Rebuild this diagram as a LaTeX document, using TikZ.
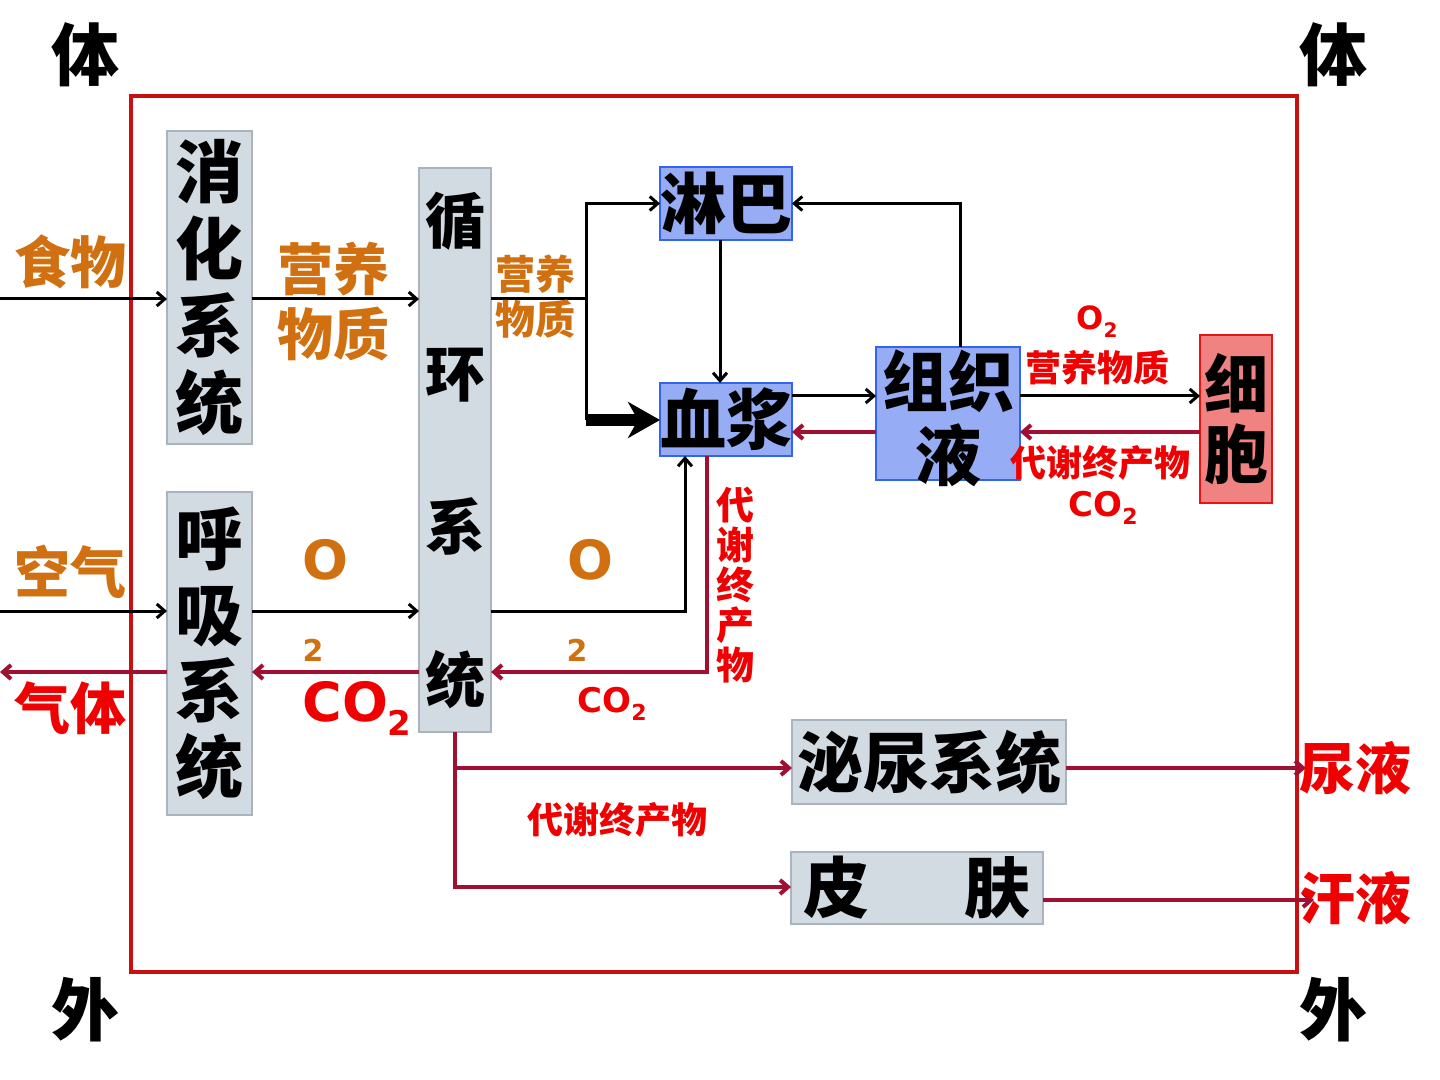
\documentclass[tikz,border=0pt]{standalone}
\usepackage{fontspec}
\setmainfont{Noto Sans CJK SC}
\newfontfamily\lat{DejaVu Sans}
\usetikzlibrary{arrows.meta}
\definecolor{orng}{RGB}{208,112,16}
\definecolor{rtext}{RGB}{240,0,0}
\definecolor{darkred}{RGB}{160,16,48}
\definecolor{framered}{RGB}{200,16,16}
\definecolor{boxfill}{RGB}{210,218,226}
\definecolor{boxgray}{RGB}{170,180,190}
\definecolor{bluefill}{RGB}{150,172,245}
\definecolor{blueedge}{RGB}{50,100,240}
\definecolor{cellfill}{RGB}{240,130,130}
\definecolor{celledge}{RGB}{230,20,20}
\newcommand\lowsub[2]{\raisebox{-#1}{\fontsize{#2}{#2}\selectfont 2}}
\begin{document}
\begin{tikzpicture}[x=0.5pt,y=-0.5pt,
  every node/.style={inner sep=0pt, outer sep=0pt},
  graybox/.style={draw=boxgray, fill=boxfill, line width=0.6pt, align=center},
  bluebox/.style={draw=blueedge, fill=bluefill, line width=1.2pt, align=center},
  cellbox/.style={draw=celledge, fill=cellfill, line width=1.2pt, align=center},
  blk/.style={draw=black, line width=1.5pt, -{Straight Barb[length=4pt,width=7pt]}},
  drd/.style={draw=darkred, line width=2pt, -{Straight Barb[length=4pt,width=7pt]}},
  lbl/.style={align=center},
]
\useasboundingbox (0,0) rectangle (1440,1080);
\fill[white] (0,0) rectangle (1440,1080);
% frame
\draw[framered, line width=2pt] (131,96) rectangle (1297,972);
% corner labels
\node[font=\bfseries\fontsize{34pt}{34pt}\selectfont] (t1) at (85,55) {体};
\node[font=\bfseries\fontsize{34pt}{34pt}\selectfont] (t2) at (1333,55) {体};
\node[font=\bfseries\fontsize{34pt}{34pt}\selectfont] (w1) at (85,1010) {外};
\node[font=\bfseries\fontsize{34pt}{34pt}\selectfont] (w2) at (1333,1010) {外};
% boxes
\node[graybox, minimum width=42.5pt, minimum height=156.5pt, font=\bfseries\fontsize{34pt}{38.5pt}\selectfont] (xh) at (209.5,287.5) {消\\化\\系\\统};
\node[graybox, minimum width=42.5pt, minimum height=161.5pt, font=\bfseries\fontsize{34pt}{38pt}\selectfont] (hx) at (209.5,653.5) {呼\\吸\\系\\统};
\node[graybox, minimum width=36pt, minimum height=282pt, font=\bfseries\fontsize{30pt}{76.5pt}\selectfont] (xc) at (455,450) {循\\环\\系\\统};
\node[bluebox, minimum width=66pt, minimum height=36.5pt, font=\bfseries\fontsize{33pt}{33pt}\selectfont] (lb) at (726,203.5) {淋巴};
\node[bluebox, minimum width=66pt, minimum height=36.5pt, font=\bfseries\fontsize{33pt}{33pt}\selectfont] (xj) at (726,419.5) {血浆};
\node[bluebox, minimum width=72pt, minimum height=66.5pt] (zz) at (948,413.5) {};
\node[align=center, font=\bfseries\fontsize{33pt}{37pt}\selectfont] (zzt) at (948,418) {组织\\液};
\node[cellbox, minimum width=36pt, minimum height=84pt, font=\bfseries\fontsize{32pt}{35pt}\selectfont] (xb) at (1236,419) {细\\胞};
\node[graybox, minimum width=137pt, minimum height=42pt, font=\bfseries\fontsize{33pt}{33pt}\selectfont] (mn) at (929,762) {泌尿系统};
\node[graybox, minimum width=126pt, minimum height=36pt, font=\bfseries\fontsize{33pt}{33pt}\selectfont] (pf) at (917,888) {皮\hspace{48pt}肤};
% helper coordinates
\coordinate (inFood) at (0,299);
\coordinate (inAir) at (0,611);
\coordinate (outGas) at (0,672);
\coordinate (br) at (586,299);
\coordinate (br2) at (586,420);
\coordinate (jO) at (685,611);
\coordinate (jC) at (707,672);
\coordinate (yUp) at (0,396);
\coordinate (yDn) at (0,432);
\coordinate (yUr) at (0,768);
\coordinate (ySw) at (0,887);
\coordinate (ySw2) at (0,900);
\coordinate (xLy) at (960,0);
\coordinate (xLb) at (720,0);
\coordinate (ex1) at (1306,768);
\coordinate (ex2) at (1314,900);
% connectors - black
\draw[blk] (inFood) -- (xh.west |- inFood);
\draw[blk] (xh.east |- inFood) -- (xc.west |- inFood);
\draw[blk] (xc.east |- inFood) -- (br) |- (lb.west);
\draw[black, line width=1.5pt] (br) -- (br2);
\draw[black, line width=6pt, -{Stealth[length=16pt,width=18pt,inset=5pt]}] (br2) -- (xj.west |- br2);
\draw[blk] (lb.south -| xLb) -- (xj.north -| xLb);
\draw[blk] (zz.north -| xLy) |- (lb.east);
\draw[blk] (xj.east |- yUp) -- (zz.west |- yUp);
\draw[blk] (zz.east |- yUp) -- (xb.west |- yUp);
\draw[blk] (inAir) -- (hx.west |- inAir);
\draw[blk] (hx.east |- inAir) -- (xc.west |- inAir);
\draw[blk] (xc.east |- inAir) -| (xj.south -| jO);
% connectors - dark red
\draw[drd] (zz.west |- yDn) -- (xj.east |- yDn);
\draw[drd] (xb.west |- yDn) -- (zz.east |- yDn);
\draw[drd] (xj.south -| jC) |- (xc.east |- outGas);
\draw[drd] (xc.west |- outGas) -- (hx.east |- outGas);
\draw[drd] (hx.west |- outGas) -- (outGas);
\draw[drd] (xc.south) |- (mn.west |- yUr);
\draw[drd] (xc.south) |- (pf.west |- ySw);
\draw[drd] (mn.east |- yUr) -- (ex1);
\draw[drd] (pf.east |- ySw2) -- (ex2);
% labels
\node[text=orng, font=\bfseries\fontsize{28pt}{28pt}\selectfont] (lfood) at (70,262) {食物};
\node[text=orng, font=\bfseries\fontsize{28pt}{28pt}\selectfont] (lair) at (70,572) {空气};
\node[text=rtext, font=\bfseries\fontsize{28pt}{28pt}\selectfont] (lgas) at (70,708) {气体};
\node[lbl, text=orng, font=\bfseries\fontsize{28pt}{32.5pt}\selectfont] (lnut1) at (333,302) {营养\\物质};
\node[lbl, text=orng, font=\bfseries\fontsize{20pt}{22.5pt}\selectfont] (lnut2) at (535,297) {营养\\物质};
\node[text=orng, font=\lat\bfseries\fontsize{27pt}{27pt}\selectfont] (lo1) at (325,560) {O};
\node[text=orng, font=\lat\bfseries\fontsize{15pt}{15pt}\selectfont] (lo1s) at (313,650) {2};
\node[text=orng, font=\lat\bfseries\fontsize{27pt}{27pt}\selectfont] (lo2) at (590,560) {O};
\node[text=orng, font=\lat\bfseries\fontsize{15pt}{15pt}\selectfont] (lo2s) at (577,650) {2};
\node[text=rtext, font=\lat\bfseries\fontsize{27pt}{27pt}\selectfont] (lco1) at (357,708) {CO\lowsub{7pt}{17pt}};
\node[text=rtext, font=\lat\bfseries\fontsize{17pt}{17pt}\selectfont] (lco2) at (612,704) {CO\lowsub{4pt}{11pt}};
\node[lbl, text=rtext, font=\bfseries\fontsize{19pt}{20pt}\selectfont] (lmet1) at (735,585) {代\\谢\\终\\产\\物};
\node[text=rtext, font=\lat\bfseries\fontsize{16pt}{16pt}\selectfont] (lo3) at (1097,322) {O\lowsub{4pt}{10pt}};
\node[text=rtext, font=\bfseries\fontsize{18pt}{18pt}\selectfont] (lnut3) at (1097,368) {营养物质};
\node[text=rtext, font=\bfseries\fontsize{18pt}{18pt}\selectfont] (lmet2) at (1100,463) {代谢终产物};
\node[text=rtext, font=\lat\bfseries\fontsize{17pt}{17pt}\selectfont] (lco3) at (1103,508) {CO\lowsub{4pt}{11pt}};
\node[text=rtext, font=\bfseries\fontsize{18pt}{18pt}\selectfont] (lmet3) at (617,820) {代谢终产物};
\node[text=rtext, font=\bfseries\fontsize{28pt}{28pt}\selectfont] (lur) at (1355,768) {尿液};
\node[text=rtext, font=\bfseries\fontsize{28pt}{28pt}\selectfont] (lsw) at (1355,898) {汗液};
\end{tikzpicture}
\end{document}
